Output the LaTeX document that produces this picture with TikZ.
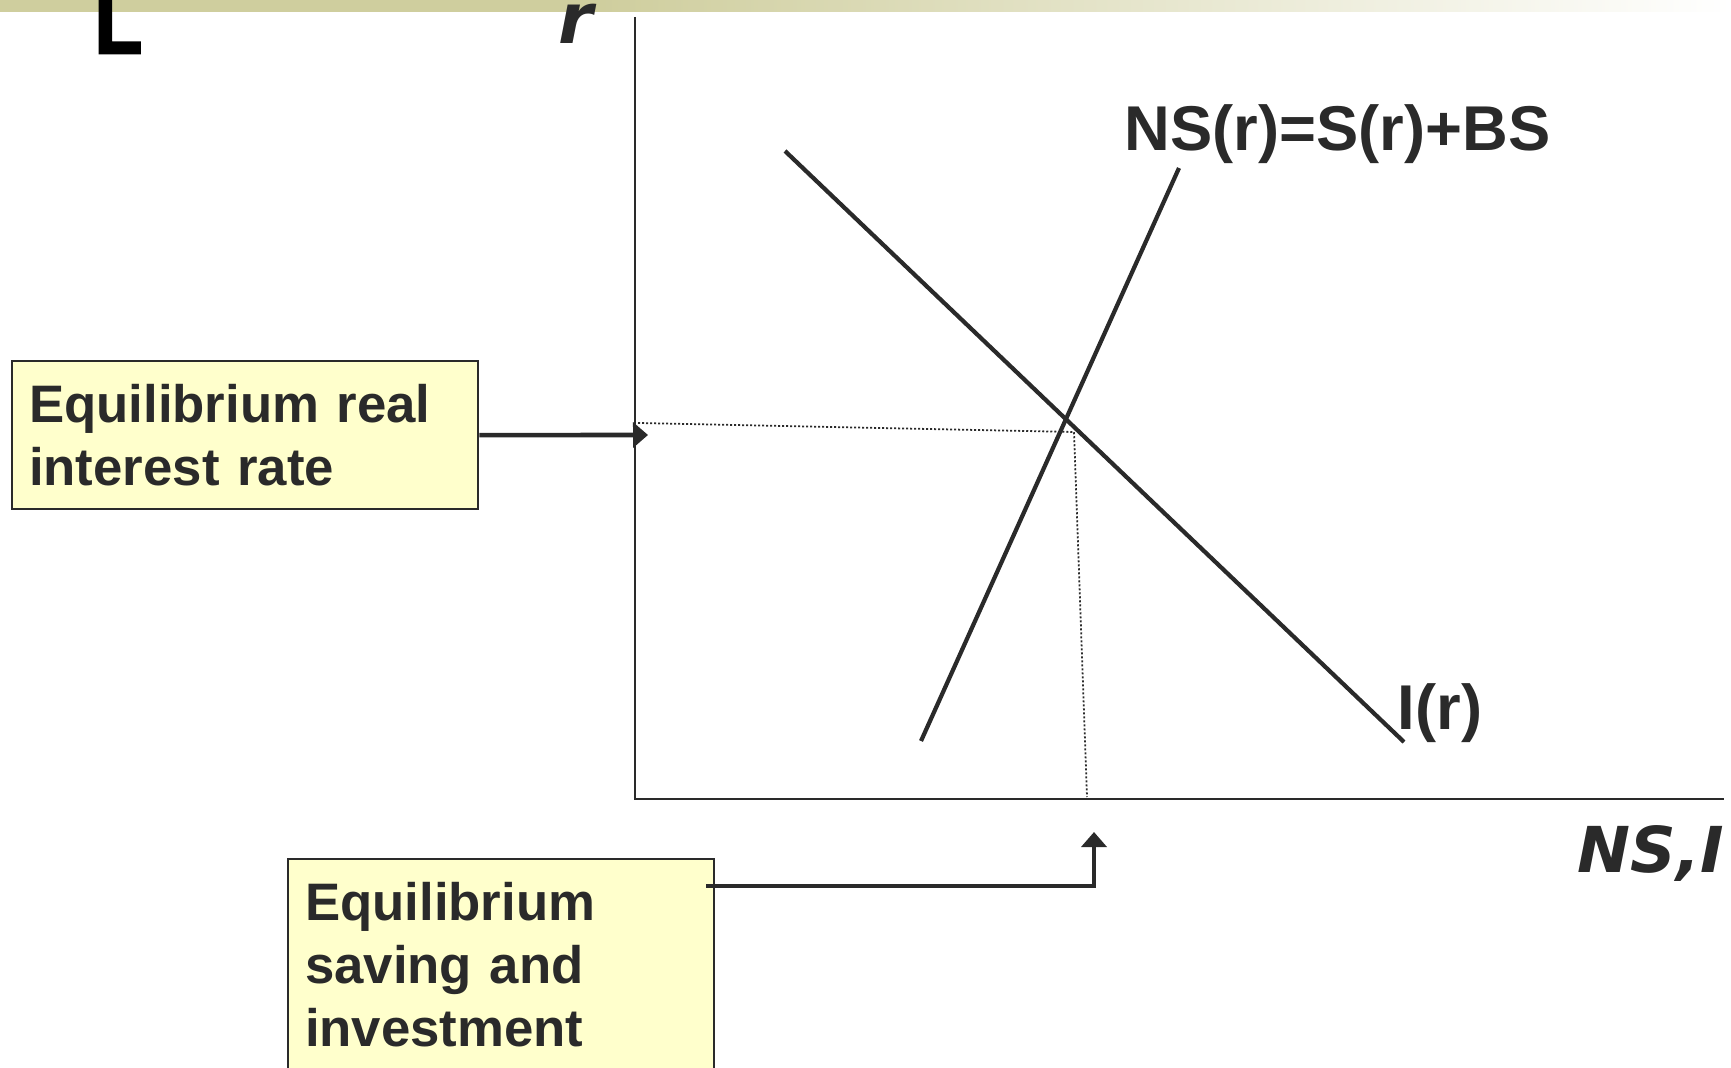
\documentclass[tikz,border=0pt]{standalone}
\usepackage{fontspec}
\setmainfont{Liberation Sans}
\newfontfamily\axisfont{DejaVu Sans}
\newfontfamily\heavyfont{Liberation Sans}[FakeBold=3]
\definecolor{NoteYellow}{HTML}{FFFFCC}
\definecolor{InkGray}{HTML}{2A2A2A}
\definecolor{BarOlive}{HTML}{CFCE9E}
\usetikzlibrary{arrows.meta,calc}

\begin{document}
\begin{tikzpicture}[x=0.01cm,y=-0.01cm,every node/.style={text=InkGray},
    note/.style={draw=InkGray,line width=0.6pt,fill=NoteYellow,anchor=north west,align=left,inner xsep=0.17cm,inner ysep=0.23cm,font=\fontsize{15}{18}\selectfont\bfseries},
    curve/.style={InkGray,line width=1.2pt},
    guide/.style={InkGray,line width=0.5pt,dash pattern=on 0.02cm off 0.02cm},
    pointer/.style={InkGray,line width=1.3pt,-{Triangle[length=0.15cm,width=0.25cm]}},
    tag/.style={anchor=base west,inner sep=0pt}]
  \useasboundingbox (0,0) rectangle (1731,1067);
  \clip (0,0) rectangle (1731,1067);
  % title bar
  \fill[BarOlive] (0,0) rectangle (600,12);
  \shade[left color=BarOlive,right color=white] (600,0) rectangle (1731,12);
  \node[tag,text=black,xscale=0.85,font=\heavyfont\fontsize{26}{26}\selectfont\bfseries] (corner) at (94,53) {L};
  % axes
  \coordinate (origin) at (635,799);
  \coordinate (ytop) at (635,17);
  \coordinate (xend) at (1724,799);
  \draw[InkGray,line width=0.5pt] (ytop) -- (origin) -- (xend);
  \node[tag,font=\axisfont\fontsize{20}{20}\selectfont\bfseries\itshape] (ylab) at (558,44) {r};
  \node[tag,font=\axisfont\fontsize{18}{18}\selectfont\bfseries\itshape] (xlab) at (1577,872) {NS,I};
  % saving and investment curves
  \coordinate (nsA) at (921,741);
  \coordinate (nsB) at (1179,168);
  \coordinate (iA) at (785,151);
  \coordinate (iB) at (1404,742);
  \draw[curve] (nsA) -- (nsB);
  \draw[curve] (iA) -- (iB);
  \node[tag,font=\fontsize{18}{18}\selectfont\bfseries] (nslab) at (1124,151) {NS(r)=S(r)+BS};
  \node[tag,font=\fontsize{18}{18}\selectfont\bfseries] (ilab) at (1397,729) {I(r)};
  % equilibrium guides
  \coordinate (req) at (638,423);
  \coordinate (eq) at (1074,432);
  \coordinate (seq) at (1087,797);
  \draw[guide] (req) -- (eq) -- (seq);
  % notes
  \node[note,text width=4.32cm] (rate) at (11,360) {Equilibrium real\\interest rate};
  \node[note,text width=3.92cm] (save) at (287,858) {Equilibrium\\saving and\\investment};
  \coordinate (rtip) at (648,435);
  \coordinate (stip) at (1094,832);
  \draw[pointer] (rate.east) -- (rtip);
  \draw[pointer] ([shift={(-9,28)}]save.north east) -| (stip);
\end{tikzpicture}
\end{document}
